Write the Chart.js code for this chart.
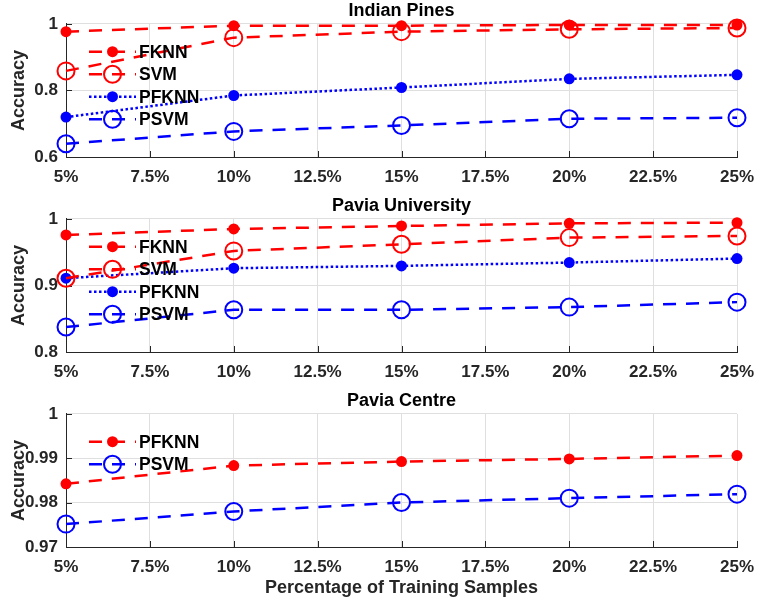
<!DOCTYPE html>
<html><head><meta charset="utf-8">
<script src="https://cdn.jsdelivr.net/npm/chart.js@4"></script>
<style>
html,body{margin:0;padding:0;background:#fff;}
canvas{display:block;position:absolute;left:0;}
</style></head><body>
<canvas id="c1" width="762" height="195" style="top:0px"></canvas>
<canvas id="c2" width="762" height="195" style="top:195px"></canvas>
<canvas id="c3" width="762" height="211" style="top:390px"></canvas>
<script>
// ---- data ----
const xValues = [5, 10, 15, 20, 25];
const xTickValues = [5, 7.5, 10, 12.5, 15, 17.5, 20, 22.5, 25];
const xTickLabels = ['5%', '7.5%', '10%', '12.5%', '15%', '17.5%', '20%', '22.5%', '25%'];
const xAxisTitle = 'Percentage of Training Samples';
const yAxisTitle = 'Accuracy';

const titleIP = 'Indian Pines';
const ipLabels = ['FKNN', 'SVM', 'PFKNN', 'PSVM'];
const ipFKNN = [0.977, 0.995, 0.995, 0.997, 0.997];
const ipSVM = [0.859, 0.959, 0.977, 0.984, 0.988];
const ipPFKNN = [0.720, 0.785, 0.809, 0.835, 0.847];
const ipPSVM = [0.640, 0.677, 0.695, 0.715, 0.718];
const ipYTicks = [0.6, 0.8, 1];
const ipYLabels = ['0.6', '0.8', '1'];

const titlePU = 'Pavia University';
const puLabels = ['FKNN', 'SVM', 'PFKNN', 'PSVM'];
const puFKNN = [0.976, 0.985, 0.9895, 0.9935, 0.9945];
const puSVM = [0.911, 0.952, 0.962, 0.972, 0.9745];
const puPFKNN = [0.911, 0.926, 0.9295, 0.9345, 0.9405];
const puPSVM = [0.8375, 0.8635, 0.8635, 0.8675, 0.875];
const puYTicks = [0.8, 0.9, 1];
const puYLabels = ['0.8', '0.9', '1'];

const titlePC = 'Pavia Centre';
const pcLabels = ['PFKNN', 'PSVM'];
const pcPFKNN = [0.98425, 0.98837, 0.98927, 0.98987, 0.99062];
const pcPSVM = [0.97517, 0.97802, 0.98005, 0.98102, 0.98192];
const pcYTicks = [0.97, 0.98, 0.99, 1];
const pcYLabels = ['0.97', '0.98', '0.99', '1'];

// ---- styles ----
const FONT = "'Liberation Sans', Arial, Helvetica, sans-serif";
const RED = '#ff0000', BLUE = '#0000ff', AX = '#262626', GRID = '#dfdfdf';
const DASH = [13, 10], DOT = [2.5, 2.5];
const STYLES = {
  redFilledDash: {color: RED, dash: DASH, filled: true},
  redOpenDash: {color: RED, dash: DASH, filled: false},
  blueFilledDot: {color: BLUE, dash: DOT, filled: true},
  blueOpenDash: {color: BLUE, dash: DASH, filled: false}
};

function ds(label, values, styleKey) {
  const st = STYLES[styleKey];
  return {
    label: label,
    data: xValues.map((x, i) => ({x: x, y: values[i]})),
    borderColor: st.color,
    borderWidth: 2.5,
    borderDash: st.dash,
    backgroundColor: st.filled ? st.color : 'rgba(0,0,0,0)',
    pointBackgroundColor: st.filled ? st.color : 'rgba(0,0,0,0)',
    pointBorderColor: st.color,
    pointBorderWidth: st.filled ? 0 : 2,
    pointRadius: st.filled ? 5.5 : 8.5,
    pointHoverRadius: st.filled ? 5.5 : 8.5,
    fill: false,
    tension: 0,
    clip: false,
    _filled: st.filled
  };
}

const tickPlugin = {
  id: 'inTicks',
  beforeDatasetsDraw(chart) {
    const ctx = chart.ctx, a = chart.chartArea;
    const xs = chart.scales.x, ys = chart.scales.y;
    ctx.save();
    ctx.strokeStyle = AX; ctx.lineWidth = 1;
    ctx.beginPath();
    xs.ticks.forEach(t => {
      const px = Math.round(xs.getPixelForValue(t.value)) + 0.5;
      ctx.moveTo(px, a.bottom); ctx.lineTo(px, a.bottom - 6);
    });
    ys.ticks.forEach(t => {
      const py = Math.round(ys.getPixelForValue(t.value)) + 0.5;
      ctx.moveTo(a.left, py); ctx.lineTo(a.left + 6, py);
    });
    ctx.stroke();
    ctx.restore();
  }
};

const legendPlugin = {
  id: 'inLegend',
  afterDatasetsDraw(chart) {
    const ctx = chart.ctx, a = chart.chartArea;
    ctx.save();
    chart.data.datasets.forEach((d, i) => {
      const y = a.top + 27.7 + i * 22.5;
      ctx.strokeStyle = d.borderColor;
      ctx.lineWidth = d.borderWidth;
      ctx.setLineDash(d.borderDash);
      ctx.beginPath(); ctx.moveTo(89, y); ctx.lineTo(136, y); ctx.stroke();
      ctx.setLineDash([]);
      ctx.beginPath();
      ctx.arc(112.5, y, d.pointRadius, 0, Math.PI * 2);
      if (d._filled) { ctx.fillStyle = d.borderColor; ctx.fill(); }
      else { ctx.lineWidth = 2; ctx.stroke(); }
      ctx.fillStyle = '#000';
      ctx.font = 'bold 17.5px ' + FONT;
      ctx.textAlign = 'left'; ctx.textBaseline = 'middle';
      ctx.fillText(d.label, 139, y + 1);
    });
    ctx.restore();
  }
};

function makeChart(id, title, datasets, yMin, yMax, yTicks, yLabels, showXTitle) {
  return new Chart(document.getElementById(id), {
    type: 'line',
    data: {datasets: datasets},
    options: {
      responsive: false, animation: false, devicePixelRatio: 1,
      events: [],
      layout: {padding: {left: 0, right: 25, top: 0, bottom: 0}, autoPadding: false},
      plugins: {
        legend: {display: false},
        tooltip: {enabled: false},
        title: {display: true, text: title, color: '#000', fullSize: false,
                font: {family: FONT, size: 18, weight: 'bold'}, padding: {top: 0, bottom: 2.4}}
      },
      scales: {
        x: {
          type: 'linear', min: 5, max: 25,
          afterBuildTicks: s => { s.ticks = xTickValues.map(v => ({value: v})); },
          afterFit: s => { s.height = showXTitle ? 54 : 38; s.paddingLeft = 0; s.paddingRight = 0; },
          ticks: {autoSkip: false, maxRotation: 0, padding: 10, color: AX,
                  font: {family: FONT, size: 17, weight: 'bold'},
                  callback: (v, i) => xTickLabels[i]},
          grid: {color: GRID, drawTicks: false, lineWidth: 1},
          border: {color: AX, width: 1},
          title: {display: showXTitle, text: xAxisTitle, color: AX,
                  font: {family: FONT, size: 18, weight: 'bold'}, padding: {top: 0, bottom: 2.2}}
        },
        y: {
          type: 'linear', min: yMin, max: yMax,
          afterBuildTicks: s => { s.ticks = yTicks.map(v => ({value: v})); },
          afterFit: s => { s.width = 66; s.paddingTop = 0; s.paddingBottom = 0; },
          ticks: {autoSkip: false, padding: 8, color: AX,
                  font: {family: FONT, size: 17, weight: 'bold'},
                  callback: (v, i) => yLabels[i]},
          grid: {color: GRID, drawTicks: false, lineWidth: 1},
          border: {color: AX, width: 1},
          title: {display: true, text: yAxisTitle, color: AX,
                  font: {family: FONT, size: 18, weight: 'bold'}, padding: {top: 8, bottom: 0}}
        }
      }
    },
    plugins: [tickPlugin, legendPlugin]
  });
}

makeChart('c1', titleIP, [
  ds(ipLabels[0], ipFKNN, 'redFilledDash'),
  ds(ipLabels[1], ipSVM, 'redOpenDash'),
  ds(ipLabels[2], ipPFKNN, 'blueFilledDot'),
  ds(ipLabels[3], ipPSVM, 'blueOpenDash')
], 0.6, 1, ipYTicks, ipYLabels, false);

makeChart('c2', titlePU, [
  ds(puLabels[0], puFKNN, 'redFilledDash'),
  ds(puLabels[1], puSVM, 'redOpenDash'),
  ds(puLabels[2], puPFKNN, 'blueFilledDot'),
  ds(puLabels[3], puPSVM, 'blueOpenDash')
], 0.8, 1, puYTicks, puYLabels, false);

makeChart('c3', titlePC, [
  ds(pcLabels[0], pcPFKNN, 'redFilledDash'),
  ds(pcLabels[1], pcPSVM, 'blueOpenDash')
], 0.97, 1, pcYTicks, pcYLabels, true);
</script>
</body></html>
